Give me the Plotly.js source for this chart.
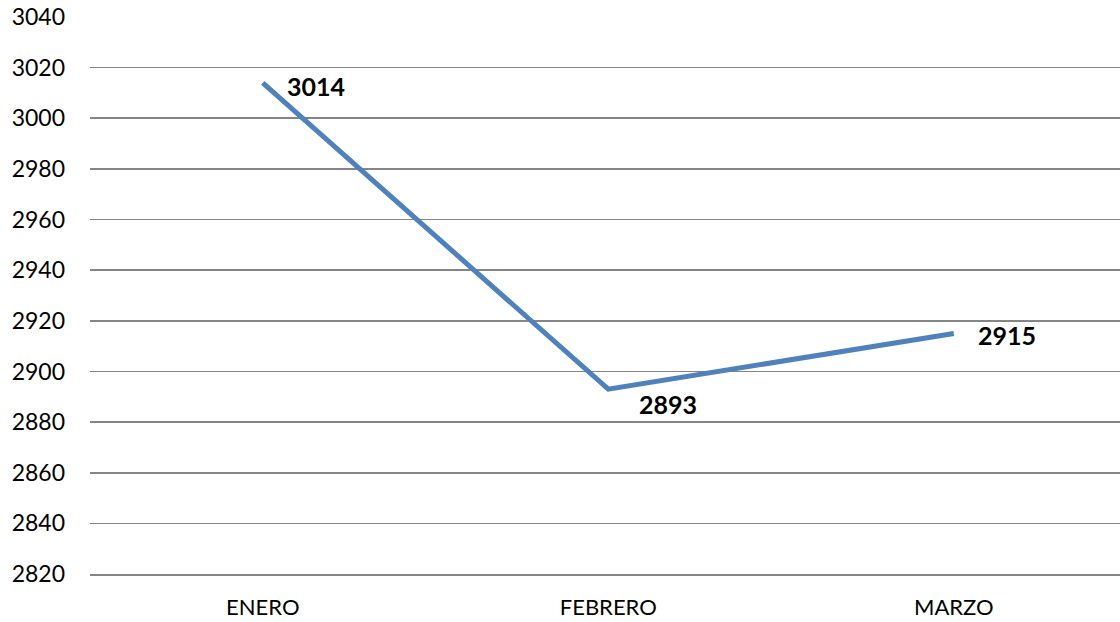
<!DOCTYPE html>
<html>
<head>
<meta charset="utf-8">
<script src="https://cdn.plot.ly/plotly-3.0.1.min.js"></script>
<style>html,body{margin:0;padding:0;background:#fff;}#chart{width:1120px;height:622px;}</style>
</head>
<body>
<div id="chart"></div>
<script>
const months = ["ENERO", "FEBRERO", "MARZO"];
const values = [3014, 2893, 2915];
const yTicks = [2820, 2840, 2860, 2880, 2900, 2920, 2940, 2960, 2980, 3000, 3020, 3040];

const labelOffsets = [[22, -3], [29, -15], [22, -2]];
const annotations = months.map((m, i) => ({
  x: m, y: values[i], xref: "x", yref: "y",
  text: "<b>" + values[i] + "</b>",
  showarrow: false, xanchor: "left", yanchor: "middle",
  xshift: labelOffsets[i][0], yshift: labelOffsets[i][1],
  font: {family: "Lato, 'Open Sans', sans-serif", size: 25, color: "#000"}
}));

Plotly.newPlot("chart", [{
  x: months, y: values, type: "scatter", mode: "lines",
  line: {color: "#4F81BD", width: 5}, hoverinfo: "skip"
}], {
  width: 1120, height: 622,
  margin: {l: 90, r: 0, t: 17, b: 48},
  paper_bgcolor: "#fff", plot_bgcolor: "#fff",
  showlegend: false,
  font: {family: "Lato, 'Open Sans', sans-serif", size: 23, color: "#000"},
  xaxis: {
    type: "category", range: [-0.5, 2.481], showgrid: false, zeroline: false,
    showline: true, linecolor: "#858585", linewidth: 2, ticks: "",
    ticklabelstandoff: 13, tickfont: {size: 22}
  },
  yaxis: {
    range: [2820, 3040], tickvals: yTicks, ticktext: yTicks.map(String),
    showgrid: true, gridcolor: "#858585", gridwidth: 1.6, zeroline: false,
    showline: false, ticks: "", ticklabelstandoff: 24, tickfont: {size: 23}
  },
  annotations: annotations
}, {displayModeBar: false, staticPlot: true});
</script>
</body>
</html>
